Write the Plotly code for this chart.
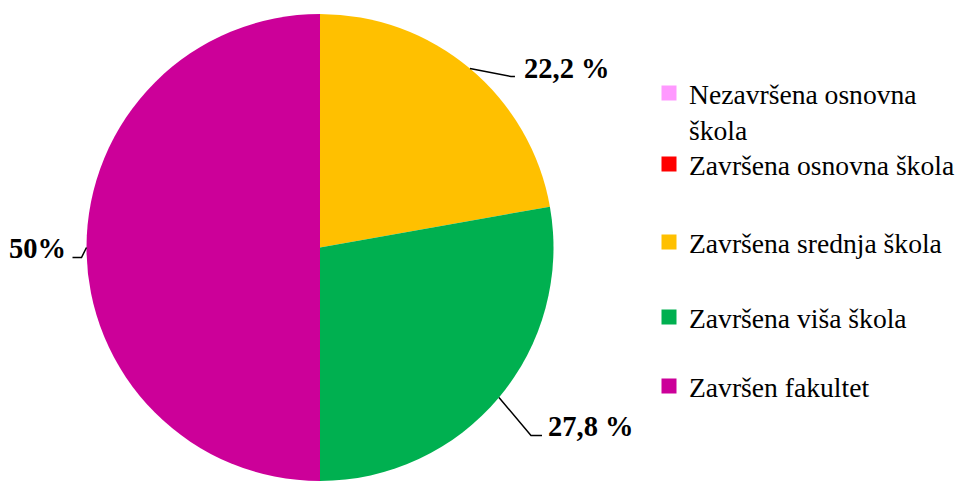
import math
import plotly.graph_objects as go

# ---- data ----
categories = ["Nezavršena osnovna škola", "Završena osnovna škola",
              "Završena srednja škola", "Završena viša škola", "Završen fakultet"]
legend_names = ["Nezavršena osnovna<br>škola", "Završena osnovna škola",
                "Završena srednja škola", "Završena viša škola", "Završen fakultet"]
values = [0, 0, 22.2, 27.8, 50]
value_labels = ["", "", "22,2 %", "27,8 %", "50%"]
colors = ["#FF99FF", "#FF0000", "#FFC000", "#00B050", "#CC0099"]

W, H = 962, 481
cx, cy, R = 320.0, 247.5, 233.5
FONT = "Liberation Serif"

def px(x):
    return x / W

def py(y):
    return 1 - y / H

fig = go.Figure()
fig.add_trace(go.Pie(
    labels=categories, values=values, sort=False, direction="clockwise", rotation=0,
    marker=dict(colors=colors, line=dict(width=0)), textinfo="none",
    hoverinfo="label+value", showlegend=False,
    domain=dict(x=[px(cx - R), px(cx + R)], y=[py(cy + R), py(cy - R)]),
))

# leader-line geometry (elbow offset, end offset, text offset) per slice
leader = {
    2: ((41, 8), (4, 0), (7, -8), "left"),
    3: ((32, 38), (11, 0), (4, -9), "left"),
    4: ((-5, 10), (-9, 0), (-5, -9), "right"),
}
total = sum(values)
cum = 0.0
shapes, annotations = [], []
for i, v in enumerate(values):
    mid = (cum + v / 2) / total * 2 * math.pi
    cum += v
    if v <= 0 or i not in leader:
        continue
    (ex, ey), (dx, dy), (tx, ty), anchor = leader[i]
    sx = cx + R * math.sin(mid)
    sy = cy - R * math.cos(mid)
    e1x, e1y = sx + ex, sy + ey
    e2x, e2y = e1x + dx, e1y + dy
    shapes.append(dict(
        type="path", xref="paper", yref="paper",
        path=f"M {px(sx)} {py(sy)} L {px(e1x)} {py(e1y)} L {px(e2x)} {py(e2y)}",
        line=dict(color="black", width=1.5),
    ))
    annotations.append(dict(
        x=px(e2x + tx), y=py(e2y + ty), xref="paper", yref="paper",
        text=f"<b>{value_labels[i]}</b>", showarrow=False,
        xanchor=anchor, yanchor="middle",
        font=dict(family=FONT, size=28.5, color="black"),
    ))

# legend entries, each in its own legend for exact placement
legend_y = [111, 164, 242, 317, 386]
for i, name in enumerate(legend_names):
    lg = "legend" if i == 0 else f"legend{i + 1}"
    fig.add_trace(go.Scatter(
        x=[None], y=[None], mode="markers", name=name, legend=lg,
        marker=dict(symbol="square", size=15, color=colors[i]),
        hoverinfo="skip",
    ))

layout_legends = {}
for i in range(len(legend_names)):
    key = "legend" if i == 0 else f"legend{i + 1}"
    layout_legends[key] = dict(
        x=px(649), y=py(legend_y[i]), xanchor="left", yanchor="middle",
        bgcolor="rgba(0,0,0,0)", borderwidth=0, valign="top",
        font=dict(family=FONT, size=27.6, color="black"),
    )

fig.update_layout(
    width=W, height=H, margin=dict(l=0, r=0, t=0, b=0, autoexpand=False),
    paper_bgcolor="white", plot_bgcolor="white",
    font=dict(family=FONT, color="black"),
    xaxis=dict(visible=False), yaxis=dict(visible=False),
    shapes=shapes, annotations=annotations,
    **layout_legends,
)
fig.write_html("out.html", config={"displayModeBar": False},
               post_script="document.body.style.margin='0';")
